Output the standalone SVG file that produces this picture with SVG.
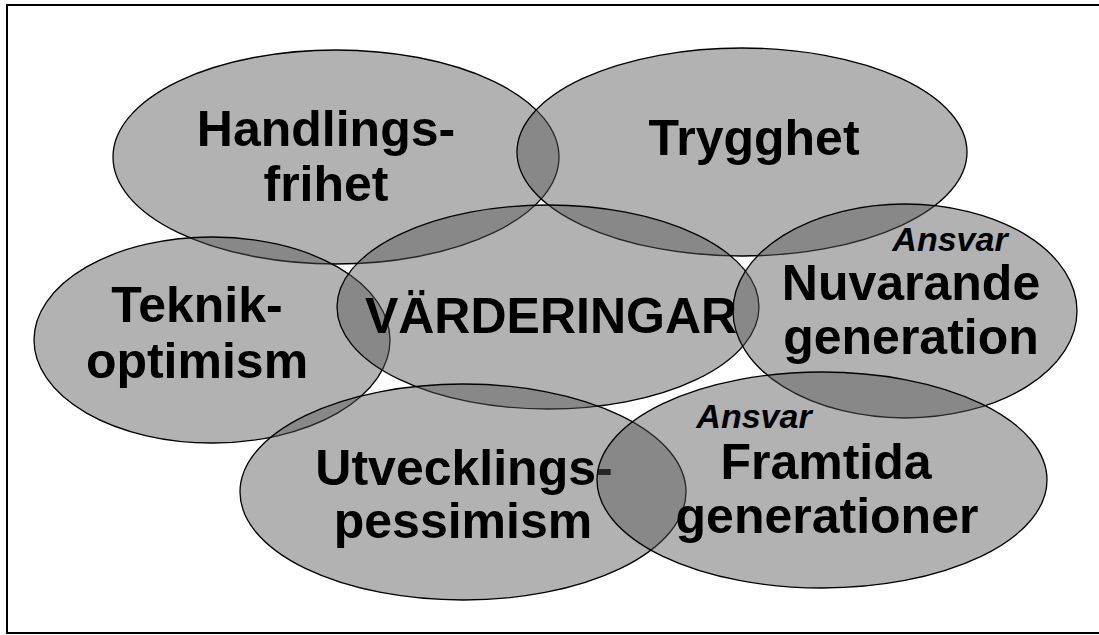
<svg xmlns="http://www.w3.org/2000/svg" width="1099" height="635" viewBox="0 0 1099 635">
  <style>
    .blob { fill: #555; fill-opacity: 0.45; stroke: #000; stroke-width: 1.3; }
    .lbl { font-family: "Liberation Sans", Arial, sans-serif; font-weight: bold; font-size: 50px; fill: #000; text-anchor: middle; }
    .ansvar { font-family: "Liberation Sans", Arial, sans-serif; font-weight: bold; font-style: italic; font-size: 34px; fill: #000; text-anchor: middle; }
    .frame { fill: none; stroke: #000; stroke-width: 2; }
  </style>
  <rect width="1099" height="635" fill="#fff"/>
  <!-- page frame (open on the right) -->
  <path class="frame" d="M1099 5 H7 V633 H1099"/>

  <g id="connectors"></g>

  <g id="handlingsfrihet">
    <ellipse class="blob" cx="336" cy="157" rx="223" ry="107"/>
    <text class="lbl" x="326" y="146">Handlings-</text>
    <text class="lbl" x="326" y="201">frihet</text>
  </g>

  <g id="trygghet">
    <ellipse class="blob" cx="742" cy="152" rx="225" ry="104"/>
    <text class="lbl" x="754" y="155">Trygghet</text>
  </g>

  <g id="teknikoptimism">
    <ellipse class="blob" cx="212" cy="340" rx="178" ry="103"/>
    <text class="lbl" x="197" y="322">Teknik-</text>
    <text class="lbl" x="197" y="378">optimism</text>
  </g>

  <g id="varderingar">
    <ellipse class="blob" cx="548" cy="307" rx="211" ry="102"/>
    <text class="lbl" x="551" y="333">VÄRDERINGAR</text>
  </g>

  <g id="nuvarande">
    <ellipse class="blob" cx="905" cy="311" rx="172" ry="107"/>
    <text class="ansvar" x="950" y="251">Ansvar</text>
    <text class="lbl" x="911" y="300">Nuvarande</text>
    <text class="lbl" x="911" y="354">generation</text>
  </g>

  <g id="utvecklingspessimism">
    <ellipse class="blob" cx="463" cy="492" rx="223" ry="108"/>
    <text class="lbl" x="464" y="485">Utvecklings-</text>
    <text class="lbl" x="463" y="538">pessimism</text>
  </g>

  <g id="framtida">
    <ellipse class="blob" cx="822" cy="480" rx="225" ry="108"/>
    <text class="ansvar" x="754" y="428">Ansvar</text>
    <text class="lbl" x="826" y="479">Framtida</text>
    <text class="lbl" x="827" y="533">generationer</text>
  </g>
</svg>
